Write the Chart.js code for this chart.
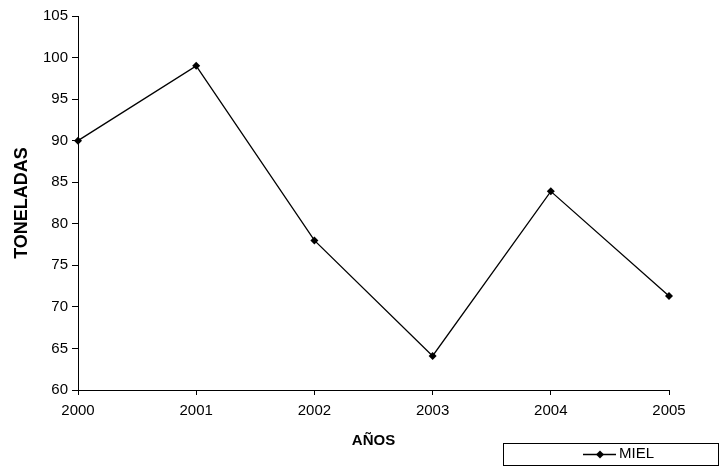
<!DOCTYPE html>
<html>
<head>
<meta charset="utf-8">
<script src="https://cdn.jsdelivr.net/npm/chart.js@4"></script>
<style>
  html, body { margin: 0; padding: 0; background: #fff; }
  #wrap { width: 719px; height: 467px; }
</style>
</head>
<body>
<div id="wrap"><canvas id="mielChart" width="719" height="467"></canvas></div>
<script>
// Data
const years = ['2000', '2001', '2002', '2003', '2004', '2005'];
const mielValues = [90, 99, 78, 64.1, 83.9, 71.3];
const seriesLabel = 'MIEL';
const yTitle = 'TONELADAS';
const xTitle = 'AÑOS';

const fontFamily = '"Liberation Sans", Arial, sans-serif';

// Legend drawn as a boxed key under the axis title, like the spreadsheet original
const boxedLegend = {
    id: 'boxedLegend',
    afterDraw(chart) {
        const ctx = chart.ctx;
        const ds = chart.data.datasets[0];
        ctx.save();
        ctx.strokeStyle = '#000';
        ctx.lineWidth = 1;
        ctx.strokeRect(503.5, 443.5, 215, 22);

        // line sample
        ctx.beginPath();
        ctx.moveTo(583, 454.5);
        ctx.lineTo(616, 454.5);
        ctx.lineWidth = 1.3;
        ctx.stroke();

        // diamond marker
        ctx.fillStyle = '#000';
        ctx.beginPath();
        ctx.moveTo(600, 450.5);
        ctx.lineTo(604, 454.5);
        ctx.lineTo(600, 458.5);
        ctx.lineTo(596, 454.5);
        ctx.closePath();
        ctx.fill();

        ctx.font = '15px ' + fontFamily;
        ctx.textBaseline = 'middle';
        ctx.textAlign = 'left';
        ctx.fillText(ds.label, 619, 454);
        ctx.restore();
    }
};

const ctx = document.getElementById('mielChart').getContext('2d');
new Chart(ctx, {
    type: 'line',
    data: {
        labels: years,
        datasets: [{
            label: seriesLabel,
            data: mielValues,
            borderColor: '#000',
            backgroundColor: '#000',
            borderWidth: 1.3,
            tension: 0,
            pointStyle: 'rectRot',
            pointRadius: 4,
            pointBorderWidth: 0,
            pointBackgroundColor: '#000'
        }]
    },
    options: {
        responsive: false,
        animation: false,
        layout: { padding: { top: 16, right: 50, left: 0, bottom: 0 } },
        plugins: {
            legend: { display: false },
            tooltip: { enabled: false }
        },
        scales: {
            x: {
                offset: false,
                afterFit: (s) => { s.height = 77; },
                grid: {
                    display: true,
                    drawOnChartArea: false,
                    drawTicks: true,
                    tickLength: 5,
                    color: '#000'
                },
                border: { display: true, color: '#000', width: 1 },
                ticks: {
                    color: '#000',
                    padding: 7,
                    maxRotation: 0,
                    font: { family: fontFamily, size: 15 }
                },
                title: {
                    display: true,
                    text: xTitle,
                    color: '#000',
                    padding: { top: 4, bottom: 17 },
                    font: { family: fontFamily, size: 15, weight: 'bold' }
                }
            },
            y: {
                min: 60,
                max: 105,
                afterFit: (s) => { s.width = 78; },
                grid: {
                    display: true,
                    drawOnChartArea: false,
                    drawTicks: true,
                    tickLength: 6,
                    color: '#000'
                },
                border: { display: true, color: '#000', width: 1 },
                ticks: {
                    stepSize: 5,
                    color: '#000',
                    padding: 4,
                    font: { family: fontFamily, size: 15 }
                },
                title: {
                    display: true,
                    text: yTitle,
                    color: '#000',
                    padding: { top: 11, bottom: 4 },
                    font: { family: fontFamily, size: 18, weight: 'bold' }
                }
            }
        }
    },
    plugins: [boxedLegend]
});
</script>
</body>
</html>
